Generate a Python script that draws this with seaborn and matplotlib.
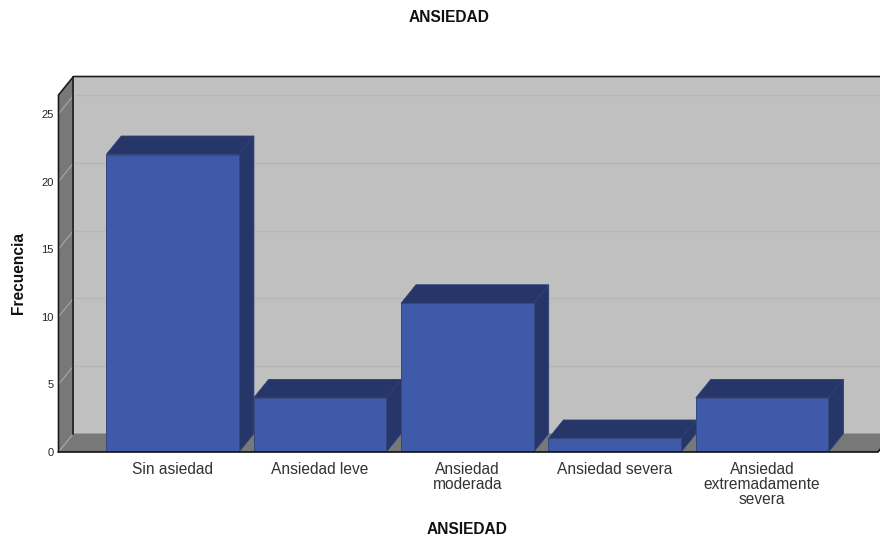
import matplotlib
matplotlib.use("Agg")
import matplotlib.pyplot as plt
import seaborn as sns
import pandas as pd

categorias = ["Sin asiedad", "Ansiedad leve", "Ansiedad\nmoderada", "Ansiedad severa",
              "Ansiedad\nextremadamente\nsevera"]
frecuencias = [22, 4, 11, 1, 4]
marcas_y = [0, 5, 10, 15, 20, 25]

sns.set_theme(style="white")
plt.rcParams["font.family"] = ["Liberation Sans", "DejaVu Sans"]

W, H = 880, 540
fig = plt.figure(figsize=(W / 100, H / 100), dpi=100, facecolor="white")
ax = fig.add_axes([58.5 / W, (H - 452) / H, (878 - 58.5) / W, (452 - 95) / H])

tabla = pd.DataFrame({"ANSIEDAD": categorias, "Frecuencia": frecuencias})
sns.barplot(data=tabla, x="ANSIEDAD", y="Frecuencia", color="#3E5AA8", saturation=1,
            width=0.9, edgecolor="#33467F", linewidth=0.7, ax=ax, zorder=6)
barras = list(ax.containers[0])

x0, x1 = -0.774, 4.786
y0, y1 = 0, 26.4
ax.set_xlim(x0, x1)
ax.set_ylim(y0, y1)

# Depth of the pseudo-3D box, in data units
dx, dy = 15 / 147.4, 18.5 / 13.53


def cara(xs, ys, color, z, borde="none", lw=0.0):
    ax.fill(xs, ys, facecolor=color, edgecolor=borde, linewidth=lw, clip_on=False, zorder=z)


def linea(xs, ys, color, lw, z):
    ax.plot(xs, ys, color=color, linewidth=lw, clip_on=False, zorder=z,
            solid_capstyle="projecting")


# Back wall, side wall and floor
cara([x0 + dx, x1 + dx, x1 + dx, x0 + dx], [dy, dy, y1 + dy, y1 + dy], "#C0C0C0", 1)
cara([x0, x0 + dx, x0 + dx, x0], [y0, dy, y1 + dy, y1], "#787878", 1)
cara([x0, x1, x1 + dx, x0 + dx], [y0, y0, dy, dy], "#787878", 1)

# Gridlines run across the side wall and the back wall
for v in marcas_y:
    linea([x0, x0 + dx], [v, v + dy], "#A8A8A8", 0.8, 2)
    if v > 0:
        linea([x0 + dx, x1 + dx], [v + dy, v + dy], "#B6B6B6", 1.0, 2)

# Box outline
linea([x0, x0, x0 + dx, x1 + dx], [y0, y1, y1 + dy, y1 + dy], "#1C1C1C", 1.2, 3)
linea([x0 + dx, x0 + dx], [dy, y1 + dy], "#1C1C1C", 1.2, 3)
linea([x0, x1, x1 + dx], [y0, y0, dy], "#111111", 1.2, 7)

# Top and right faces of every bar, built from the drawn bars
for barra in barras:
    xa, ancho, alto = barra.get_x(), barra.get_width(), barra.get_height()
    xb = xa + ancho
    cara([xa, xb, xb + dx, xa + dx], [alto, alto, alto + dy, alto + dy],
         "#263668", 4, "#2F4078", 0.6)
    cara([xb, xb + dx, xb + dx, xb], [0, dy, alto + dy, alto],
         "#263668", 4, "#2F4078", 0.6)

for lado in ax.spines.values():
    lado.set_visible(False)

ax.set_yticks(marcas_y)
ax.tick_params(axis="y", length=0, pad=3.5, labelsize=8, labelcolor="#222222")
ax.tick_params(axis="x", length=0, pad=7, labelsize=11.2, labelcolor="#333333")
for etiqueta in ax.get_xticklabels():
    etiqueta.set_linespacing(1.0)
    etiqueta.set_verticalalignment("top")

ax.set_xlabel("")
ax.set_ylabel("")
fig.text(449 / W, 1 - 17 / H, "ANSIEDAD", ha="center", va="center",
         fontsize=11.2, fontweight="bold", color="#111111")
fig.text(467 / W, 1 - 530 / H, "ANSIEDAD", ha="center", va="center",
         fontsize=11.2, fontweight="bold", color="#111111")
fig.text(19 / W, 1 - 273 / H, "Frecuencia", ha="center", va="center", rotation=90,
         fontsize=11.2, fontweight="bold", color="#111111")

fig.savefig("out.png", dpi=100, facecolor="white")
